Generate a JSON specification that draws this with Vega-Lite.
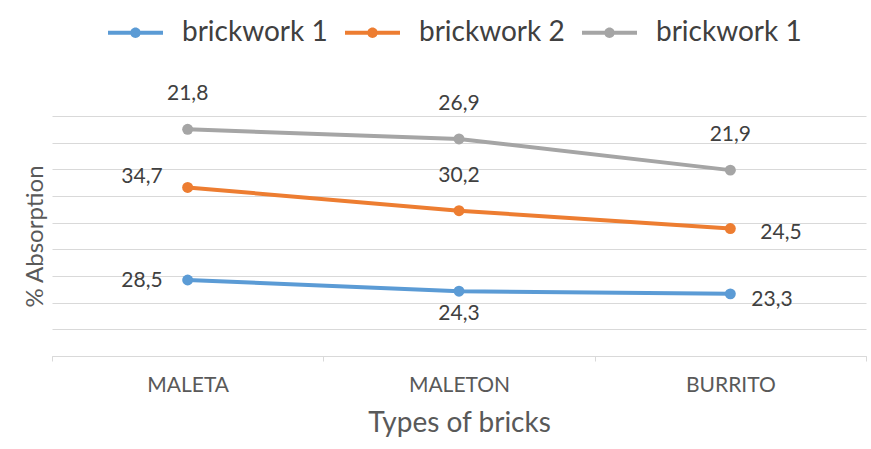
{
  "$schema": "https://vega.github.io/schema/vega-lite/v6.json",
  "width": 814,
  "height": 240,
  "autosize": {"type": "none"},
  "padding": {"left": 52, "top": 116, "right": 5, "bottom": 93},
  "background": "white",
  "config": {
    "view": {"stroke": null},
    "font": "Lato",
    "text": {"font": "Lato"}
  },
  "data": {
    "values": [
      {"cat": "MALETA", "series": "A", "value": 28.5},
      {"cat": "MALETA", "series": "B", "value": 34.7},
      {"cat": "MALETA", "series": "C", "value": 21.8},
      {"cat": "MALETON", "series": "A", "value": 24.3},
      {"cat": "MALETON", "series": "B", "value": 30.2},
      {"cat": "MALETON", "series": "C", "value": 26.9},
      {"cat": "BURRITO", "series": "A", "value": 23.3},
      {"cat": "BURRITO", "series": "B", "value": 24.5},
      {"cat": "BURRITO", "series": "C", "value": 21.9}
    ]
  },
  "transform": [
    {"stack": "value", "groupby": ["cat"], "sort": [{"field": "series"}], "as": ["y0", "y1"]},
    {"calculate": "replace(format(datum.value, '.1f'), '.', ',')", "as": "lbl"}
  ],
  "encoding": {
    "x": {
      "field": "cat", "type": "nominal", "sort": ["MALETA", "MALETON", "BURRITO"],
      "scale": {"type": "band", "paddingInner": 0, "paddingOuter": 0},
      "axis": {
        "title": "Types of bricks", "labelAngle": 0, "tickBand": "extent",
        "domainColor": "#d9d9d9", "tickColor": "#d9d9d9", "tickSize": 5,
        "labelFontSize": 21, "labelColor": "#595959", "labelPadding": 13,
        "titleFontSize": 28, "titleColor": "#595959", "titleFontWeight": "normal", "titlePadding": 14
      }
    },
    "y": {
      "field": "y1", "type": "quantitative",
      "scale": {"domain": [0, 90], "nice": false},
      "axis": {
        "title": "% Absorption", "values": [0, 10, 20, 30, 40, 50, 60, 70, 80, 90],
        "labels": false, "ticks": false, "domain": false,
        "gridColor": "#d9d9d9", "gridWidth": 1.2,
        "titleFontSize": 24, "titleColor": "#595959", "titleFontWeight": "normal", "titlePadding": 5
      }
    }
  },
  "layer": [
    {
      "mark": {"type": "line", "strokeWidth": 4},
      "encoding": {
        "color": {
          "field": "series", "type": "nominal",
          "scale": {"domain": ["A", "B", "C"], "range": ["#5B9BD5", "#ED7D31", "#A5A5A5"]},
          "legend": {
            "title": null, "orient": "none", "direction": "horizontal",
            "legendX": 56, "legendY": -111,
            "labelExpr": "datum.label == 'B' ? 'brickwork 2' : 'brickwork 1'",
            "labelFontSize": 28, "labelColor": "#404040", "labelOffset": 19, "columnPadding": 17,
            "symbolSize": 3025,
            "symbolType": "M-1,-0.07H1V0.07H-1Z M0.19,0A0.19,0.19 0 1,1 -0.19,0A0.19,0.19 0 1,1 0.19,0Z",
            "symbolStrokeWidth": 0,
            "encode": {"symbols": {"update": {"fill": {"scale": "color", "field": "value"}, "stroke": {"value": "transparent"}}}}
          }
        }
      }
    },
    {
      "mark": {"type": "point", "filled": true, "size": 120, "opacity": 1},
      "encoding": {"color": {"field": "series", "type": "nominal", "legend": null}}
    },
    {
      "transform": [{"filter": "datum.series == 'C' || (datum.series == 'B' && datum.cat == 'MALETON')"}],
      "mark": {"type": "text", "fontSize": 21, "color": "#404040", "dy": -35, "align": "center", "baseline": "middle"},
      "encoding": {"text": {"field": "lbl"}}
    },
    {
      "transform": [{"filter": "datum.series == 'B' && datum.cat == 'MALETA'"}],
      "mark": {"type": "text", "fontSize": 21, "color": "#404040", "dx": -25, "dy": -10, "align": "right", "baseline": "middle"},
      "encoding": {"text": {"field": "lbl"}}
    },
    {
      "transform": [{"filter": "datum.series == 'A' && datum.cat == 'MALETA'"}],
      "mark": {"type": "text", "fontSize": 21, "color": "#404040", "dx": -25, "dy": 1, "align": "right", "baseline": "middle"},
      "encoding": {"text": {"field": "lbl"}}
    },
    {
      "transform": [{"filter": "datum.series == 'A' && datum.cat == 'MALETON'"}],
      "mark": {"type": "text", "fontSize": 21, "color": "#404040", "dy": 23, "align": "center", "baseline": "middle"},
      "encoding": {"text": {"field": "lbl"}}
    },
    {
      "transform": [{"filter": "datum.series == 'B' && datum.cat == 'BURRITO'"}],
      "mark": {"type": "text", "fontSize": 21, "color": "#404040", "dx": 30, "dy": 4, "align": "left", "baseline": "middle"},
      "encoding": {"text": {"field": "lbl"}}
    },
    {
      "transform": [{"filter": "datum.series == 'A' && datum.cat == 'BURRITO'"}],
      "mark": {"type": "text", "fontSize": 21, "color": "#404040", "dx": 21, "dy": 6, "align": "left", "baseline": "middle"},
      "encoding": {"text": {"field": "lbl"}}
    }
  ]
}
